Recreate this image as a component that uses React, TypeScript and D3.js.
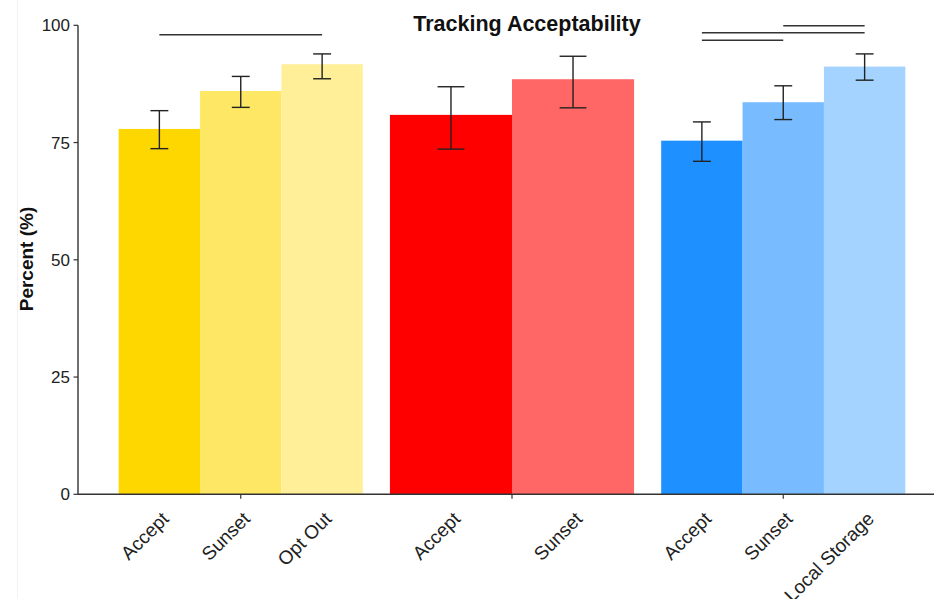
import React from "react";
import * as d3 from "d3";

const groupIds = ["g1", "g2", "g3"];
const barLabels = [
  ["Accept", "Sunset", "Opt Out"],
  ["Accept", "Sunset"],
  ["Accept", "Sunset", "Local Storage"],
];
const barValues = [
  [77.9, 86.0, 91.7],
  [80.9, 88.5],
  [75.4, 83.6, 91.2],
];
const errLow = [
  [73.7, 82.5, 88.6],
  [73.6, 82.4],
  [71.0, 79.9, 88.3],
];
const errHigh = [
  [81.8, 89.1, 93.9],
  [86.9, 93.4],
  [79.4, 87.1, 93.9],
];
const groupColors = ["#FFD700", "#FF0000", "#1E90FF"];
const shadeAlphas = [1, 0.6, 0.4];
// [group, fromBar, toBar, yValue]
const sigLines: [number, number, number, number][] = [
  [0, 0, 2, 98.0],
  [2, 0, 1, 96.8],
  [2, 0, 2, 98.4],
  [2, 1, 2, 99.9],
];
const yTicks = [0, 25, 50, 75, 100];
const titleText = "Tracking Acceptability";
const yLabel = "Percent (%)";

const W = 934;
const H = 599;
const FONT = "'Liberation Sans', Arial, sans-serif";

function shade(hex: string, a: number) {
  const c = d3.rgb(hex);
  const mix = (v: number) => Math.round(v * a + 255 * (1 - a));
  return d3.rgb(mix(c.r), mix(c.g), mix(c.b)).formatHex();
}

export default function App() {
  const y = d3.scaleLinear().domain([0, 100]).range([494.3, 25.3]);
  const xg = d3.scaleLinear().domain([0.4, 3.6]).range([78, 946]);
  const unit = xg(2) - xg(1);
  const inner = groupIds.map((g, gi) =>
    d3
      .scaleBand<string>()
      .domain(barLabels[gi].map((_, i) => String(i)))
      .range([xg(gi + 1) - unit * 0.45, xg(gi + 1) + unit * 0.45])
      .padding(0)
  );
  const axisColor = "#333333";

  return (
    <svg
      width={W}
      height={H}
      style={{ position: "fixed", left: 0, top: 0, display: "block", background: "#fff" }}
      fontFamily={FONT}
    >
      <rect x={0} y={0} width={W} height={H} fill="#fff" />
      <line x1={17.5} x2={17.5} y1={0} y2={H} stroke="#f2f2f2" strokeWidth={1} />
      {/* bars */}
      {groupIds.map((g, gi) =>
        barValues[gi].map((v, i) => {
          const sc = inner[gi];
          return (
            <rect
              key={g + i}
              x={sc(String(i))}
              width={sc.bandwidth()}
              y={y(v)}
              height={y(0) - y(v)}
              fill={shade(groupColors[gi], shadeAlphas[i])}
            />
          );
        })
      )}
      {/* error bars */}
      {groupIds.map((g, gi) =>
        barValues[gi].map((_, i) => {
          const sc = inner[gi];
          const cx = (sc(String(i)) as number) + sc.bandwidth() / 2;
          const hw = sc.bandwidth() * 0.11;
          const lo = y(errLow[gi][i]);
          const hi = y(errHigh[gi][i]);
          return (
            <g key={"e" + g + i} stroke="#222" strokeWidth={1.4}>
              <line x1={cx} x2={cx} y1={hi} y2={lo} />
              <line x1={cx - hw} x2={cx + hw} y1={hi} y2={hi} />
              <line x1={cx - hw} x2={cx + hw} y1={lo} y2={lo} />
            </g>
          );
        })
      )}
      {/* significance lines */}
      {sigLines.map(([gi, a, b, v], k) => {
        const sc = inner[gi];
        const xa = (sc(String(a)) as number) + sc.bandwidth() / 2;
        const xb = (sc(String(b)) as number) + sc.bandwidth() / 2;
        return (
          <line key={"s" + k} x1={xa} x2={xb} y1={y(v)} y2={y(v)} stroke="#333" strokeWidth={1.6} />
        );
      })}
      {/* y axis */}
      <line x1={78} x2={78} y1={y(100)} y2={y(0)} stroke={axisColor} strokeWidth={1.4} />
      {yTicks.map((t) => (
        <g key={"yt" + t}>
          <line x1={73.5} x2={78} y1={y(t)} y2={y(t)} stroke={axisColor} strokeWidth={1.2} />
          <text
            x={70}
            y={y(t)}
            dy="0.36em"
            textAnchor="end"
            fontSize={17}
            fill="#222"
          >
            {t}
          </text>
        </g>
      ))}
      {/* x axis */}
      <line x1={78} x2={W} y1={y(0)} y2={y(0)} stroke={axisColor} strokeWidth={1.4} />
      {groupIds.map((g, gi) => (
        <line
          key={"xt" + g}
          x1={xg(gi + 1)}
          x2={xg(gi + 1)}
          y1={y(0)}
          y2={y(0) + 4.5}
          stroke={axisColor}
          strokeWidth={1.2}
        />
      ))}
      {groupIds.map((g, gi) =>
        barLabels[gi].map((lab, i) => {
          const sc = inner[gi];
          const cx = (sc(String(i)) as number) + sc.bandwidth() / 2;
          return (
            <text
              key={"xl" + g + i}
              transform={`translate(${cx + 10.5},${520}) rotate(-45)`}
              textAnchor="end"
              fontSize={19}
              fill="#222"
            >
              {lab}
            </text>
          );
        })
      )}
      {/* title */}
      <text x={527} y={31} textAnchor="middle" fontWeight="bold" fontSize={21.5} fill="#111">
        {titleText}
      </text>
      {/* y label */}
      <text
        transform={`translate(${32.5},${259}) rotate(-90)`}
        textAnchor="middle"
        fontWeight="bold"
        fontSize={19}
        fill="#111"
      >
        {yLabel}
      </text>
    </svg>
  );
}
